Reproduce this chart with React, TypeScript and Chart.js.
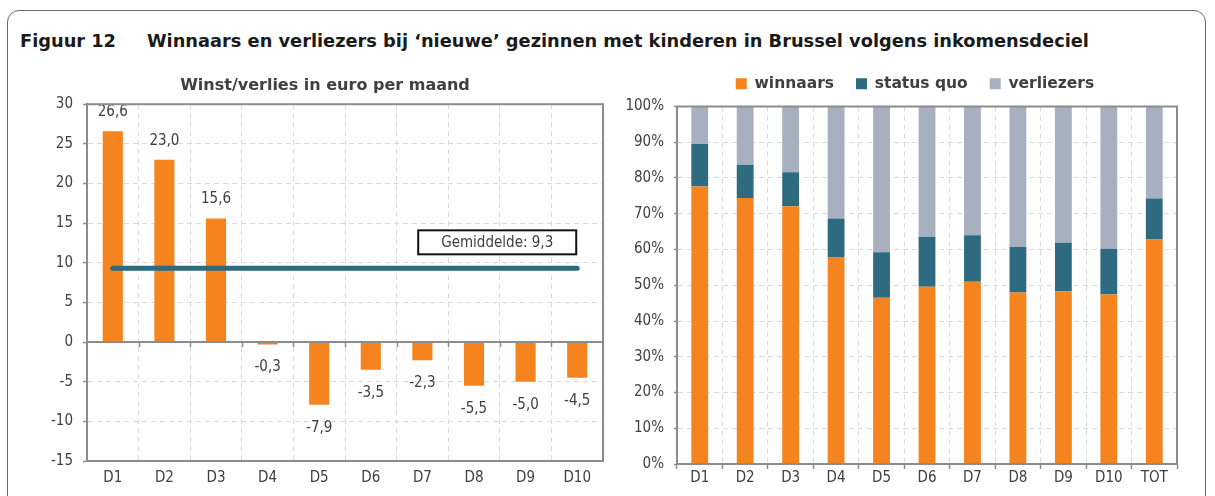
import React, { useEffect, useRef } from 'react';
import { Chart, registerables } from 'chart.js';

Chart.register(...registerables);

// ---------- data ----------
const deciles = ['D1', 'D2', 'D3', 'D4', 'D5', 'D6', 'D7', 'D8', 'D9', 'D10'];
const winstVerlies = [26.6, 23.0, 15.6, -0.3, -7.9, -3.5, -2.3, -5.5, -5.0, -4.5];
const gemiddelde = 9.3;
const gemiddeldeLabel = 'Gemiddelde: 9,3';
const leftTitle = 'Winst/verlies in euro per maand';

const shareCategories = ['D1', 'D2', 'D3', 'D4', 'D5', 'D6', 'D7', 'D8', 'D9', 'D10', 'TOT'];
const winnaars = [77.6, 74.4, 72.1, 57.9, 46.5, 49.6, 51.0, 48.0, 48.3, 47.4, 62.8];
const statusQuo = [11.9, 9.3, 9.5, 10.8, 12.7, 14.0, 13.0, 12.7, 13.6, 12.8, 11.5];
const verliezers = [10.5, 16.3, 18.4, 31.3, 40.8, 36.4, 36.0, 39.3, 38.1, 39.8, 25.7];
const seriesNames = ['winnaars', 'status quo', 'verliezers'];

const figLabel = 'Figuur 12';
const figTitle = 'Winnaars en verliezers bij \u2018nieuwe\u2019 gezinnen met kinderen in Brussel volgens inkomensdeciel';

// ---------- style ----------
const FONT = "'DejaVu Sans Condensed', 'DejaVu Sans', sans-serif";
const BOLD_FONT = "'DejaVu Sans', sans-serif";
const TEXT = '#404040';
const GRID = '#d9d9d9';
const AXIS = '#8c8c8c';
const ORANGE = '#F5841F';
const TEAL = '#2E6A80';
const GREY = '#A6B0BE';

const fmt = (v: number) => v.toFixed(1).replace('.', ',');

const plotBox = {
  id: 'plotBox',
  afterDatasetsDraw(chart: any) {
    const { ctx, chartArea: a } = chart;
    ctx.save();
    ctx.strokeStyle = AXIS;
    ctx.lineWidth = 2;
    ctx.strokeRect(a.left, a.top, a.right - a.left, a.bottom - a.top);
    ctx.restore();
  },
};

const zeroLine = {
  id: 'zeroLine',
  afterDatasetsDraw(chart: any) {
    const { ctx, chartArea: a } = chart;
    const xs = chart.scales.x;
    const y0 = chart.scales.y.getPixelForValue(0);
    ctx.save();
    ctx.strokeStyle = AXIS;
    ctx.lineWidth = 2;
    ctx.beginPath();
    ctx.moveTo(a.left, y0);
    ctx.lineTo(a.right, y0);
    ctx.stroke();
    ctx.lineWidth = 1.5;
    for (let i = 1; i < deciles.length; i++) {
      const x = Math.round(xs.getPixelForValue(i - 0.5)) + 0.5;
      ctx.beginPath();
      ctx.moveTo(x, y0);
      ctx.lineTo(x, y0 + 5);
      ctx.stroke();
    }
    ctx.restore();
  },
};

const averageLine = {
  id: 'averageLine',
  afterDatasetsDraw(chart: any) {
    const { ctx } = chart;
    const xs = chart.scales.x;
    const ys = chart.scales.y;
    const y = ys.getPixelForValue(gemiddelde);
    const x1 = xs.getPixelForValue(0);
    const x2 = xs.getPixelForValue(deciles.length - 1);
    ctx.save();
    ctx.strokeStyle = TEAL;
    ctx.lineWidth = 5;
    ctx.lineCap = 'round';
    ctx.beginPath();
    ctx.moveTo(x1, y);
    ctx.lineTo(x2, y);
    ctx.stroke();
    // label box
    const cx = xs.getPixelForValue(7.45);
    const cy = y - 26;
    const w = 158;
    const h = 24;
    ctx.fillStyle = '#ffffff';
    ctx.fillRect(cx - w / 2, cy - h / 2, w, h);
    ctx.strokeStyle = '#111111';
    ctx.lineWidth = 2;
    ctx.strokeRect(cx - w / 2, cy - h / 2, w, h);
    ctx.fillStyle = TEXT;
    ctx.font = `15px ${FONT}`;
    ctx.textAlign = 'center';
    ctx.textBaseline = 'middle';
    ctx.fillText(gemiddeldeLabel, cx, cy + 1);
    ctx.restore();
  },
};

const barLabels = {
  id: 'barLabels',
  afterDatasetsDraw(chart: any) {
    const { ctx } = chart;
    const meta = chart.getDatasetMeta(0);
    ctx.save();
    ctx.fillStyle = TEXT;
    ctx.font = `15px ${FONT}`;
    ctx.textAlign = 'center';
    ctx.textBaseline = 'middle';
    meta.data.forEach((bar: any, i: number) => {
      const v = winstVerlies[i];
      const y = v >= 0 ? bar.y - 19 : bar.y + 23;
      ctx.fillText(fmt(v), bar.x, y);
    });
    ctx.restore();
  },
};

const legendSpacing = {
  id: 'legendSpacing',
  beforeInit(chart: any) {
    const legend = chart.legend;
    if (!legend) return;
    const origFit = legend.fit;
    legend.fit = function () {
      origFit.call(this);
      this.height += 5;
    };
  },
};

const tickFont = { family: FONT, size: 15 };

export default function App() {
  const leftRef = useRef<HTMLCanvasElement>(null);
  const rightRef = useRef<HTMLCanvasElement>(null);

  useEffect(() => {
    const left = new Chart(leftRef.current as HTMLCanvasElement, {
      type: 'bar',
      data: {
        labels: deciles,
        datasets: [
          {
            data: winstVerlies,
            backgroundColor: ORANGE,
            barPercentage: 0.39,
            categoryPercentage: 1,
          },
        ],
      },
      options: {
        animation: false,
        responsive: false,
        events: [],
        layout: { padding: { left: 0, right: 10, top: 0, bottom: 0 } },
        plugins: {
          legend: { display: false },
          tooltip: { enabled: false },
          title: {
            display: true,
            text: leftTitle,
            color: TEXT,
            font: { family: BOLD_FONT, size: 16, weight: 'bold', lineHeight: 1.2 },
            padding: { top: 16, bottom: 9 },
          },
        },
        scales: {
          x: {
            grid: { offset: true, color: GRID, lineWidth: 1, drawTicks: false },
            border: { display: false, dash: [5, 4] },
            ticks: { color: TEXT, font: tickFont, padding: 8 },
            afterFit: (s: any) => {
              s.height = 35;
            },
          },
          y: {
            min: -15,
            max: 30,
            ticks: { stepSize: 5, color: TEXT, font: tickFont, padding: 10 },
            grid: { color: GRID, lineWidth: 1, tickLength: 4, tickColor: AXIS, tickWidth: 1.5 },
            border: { display: true, color: AXIS, width: 2, dash: [5, 4] },
            afterFit: (s: any) => {
              s.width = 40;
            },
          },
        },
      },
      plugins: [zeroLine, averageLine, barLabels, plotBox],
    } as any);

    const right = new Chart(rightRef.current as HTMLCanvasElement, {
      type: 'bar',
      data: {
        labels: shareCategories,
        datasets: [
          { label: seriesNames[0], data: winnaars, backgroundColor: ORANGE },
          { label: seriesNames[1], data: statusQuo, backgroundColor: TEAL },
          { label: seriesNames[2], data: verliezers, backgroundColor: GREY },
        ].map((d) => ({ ...d, barPercentage: 0.37, categoryPercentage: 1 })),
      },
      options: {
        animation: false,
        responsive: false,
        events: [],
        layout: { padding: { left: 0, right: 0, top: 0, bottom: 0 } },
        plugins: {
          tooltip: { enabled: false },
          legend: {
            display: true,
            position: 'top',
            labels: {
              color: TEXT,
              font: { family: BOLD_FONT, size: 15.5, weight: 'bold' },
              boxWidth: 11,
              boxHeight: 11,
              padding: 22,
            },
          },
        },
        scales: {
          x: {
            stacked: true,
            grid: { offset: true, color: GRID, lineWidth: 1, drawTicks: true, tickLength: 5, tickColor: AXIS, tickWidth: 1.5 },
            border: { display: false, dash: [5, 4] },
            ticks: { color: TEXT, font: tickFont, padding: 0 },
            afterFit: (s: any) => {
              s.height = 32;
            },
          },
          y: {
            stacked: true,
            min: 0,
            max: 100,
            ticks: {
              stepSize: 10,
              color: TEXT,
              font: tickFont,
              padding: 10,
              callback: (v: any) => `${v}%`,
            },
            grid: { color: GRID, lineWidth: 1, tickLength: 3, tickColor: AXIS, tickWidth: 1.5 },
            border: { display: true, color: AXIS, width: 2, dash: [5, 4] },
            afterFit: (s: any) => {
              s.width = 62;
            },
          },
          spacer: {
            type: 'linear',
            position: 'right',
            display: true,
            grid: { display: false, drawTicks: false },
            border: { display: false },
            ticks: { display: false },
            afterFit: (s: any) => {
              s.width = 38;
            },
          },
        },
      },
      plugins: [legendSpacing, plotBox],
    } as any);

    return () => {
      left.destroy();
      right.destroy();
    };
  }, []);

  const titleStyle: React.CSSProperties = {
    position: 'absolute',
    top: 30,
    font: `bold 17.8px ${BOLD_FONT}`,
    color: '#1a1a1a',
    whiteSpace: 'nowrap',
    lineHeight: '22px',
  };

  return (
    <div
      style={{
        position: 'fixed',
        left: 0,
        top: 0,
        width: 1215,
        height: 496,
        overflow: 'hidden',
        background: '#ffffff',
      }}
    >
      <div
        style={{
          position: 'absolute',
          left: 7,
          top: 10,
          width: 1199,
          height: 600,
          border: '1.5px solid #6a6a6a',
          borderRadius: 12,
          boxSizing: 'border-box',
        }}
      />
      <div style={{ ...titleStyle, left: 20 }}>{figLabel}</div>
      <div style={{ ...titleStyle, left: 147 }}>{figTitle}</div>
      <canvas
        ref={leftRef}
        width={566}
        height={436}
        style={{ position: 'absolute', left: 47, top: 60, width: 566, height: 436 }}
      />
      <canvas
        ref={rightRef}
        width={600}
        height={442}
        style={{ position: 'absolute', left: 615, top: 54, width: 600, height: 442 }}
      />
    </div>
  );
}
